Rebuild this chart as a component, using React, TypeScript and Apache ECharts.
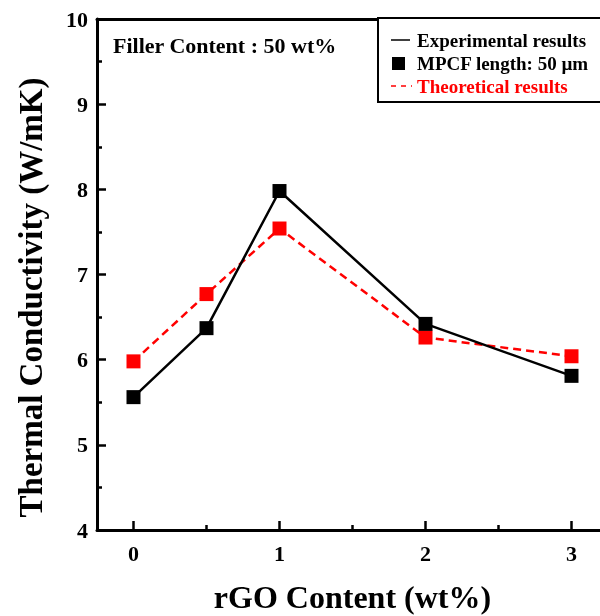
import React, { useEffect, useRef } from "react";
import * as echarts from "echarts";

const rgoContent = [0, 0.5, 1, 2, 3];
const experimental = [5.56, 6.37, 7.98, 6.42, 5.81];
const theoretical = [5.98, 6.77, 7.54, 6.26, 6.04];
const xMajorTicks = [0, 1, 2, 3];
const xMinorTicks = [0.5, 1.5, 2.5];
const legendLabels = ["Experimental results", "MPCF length: 50 µm", "Theoretical results"];
const annotation = "Filler Content : 50 wt%";
const xTitle = "rGO Content (wt%)";
const yTitle = "Thermal Conductivity (W/mK)";

const FONT = "'Liberation Serif', 'Times New Roman', serif";

export default function App() {
  const ref = useRef<HTMLDivElement>(null);
  useEffect(() => {
    if (!ref.current) return;
    const chart = echarts.init(ref.current, undefined, { renderer: "svg" });
    const xRange = { min: -0.25, max: 3.25 };
    const option: any = {
      animation: false,
      grid: { left: 97, top: 19, right: -8, bottom: 86, outerBoundsMode: "none" },
      xAxis: [
        {
          type: "value",
          position: "bottom",
          ...xRange,
          axisLine: { show: true, onZero: false, lineStyle: { color: "#000", width: 3 } },
          axisTick: { show: true, inside: true, length: 9, customValues: xMajorTicks, lineStyle: { color: "#000", width: 2.5 } },
          axisLabel: { show: true, customValues: xMajorTicks, color: "#000", fontSize: 22, fontWeight: "bold", fontFamily: FONT, margin: 12 },
          splitLine: { show: false },
          name: xTitle,
          nameLocation: "middle",
          nameGap: 51,
          nameTextStyle: { color: "#000", fontSize: 32, fontWeight: "bold", fontFamily: FONT },
        },
        {
          type: "value",
          position: "bottom",
          ...xRange,
          axisLine: { show: false, onZero: false },
          axisTick: { show: true, inside: true, length: 5, customValues: xMinorTicks, lineStyle: { color: "#000", width: 2.5 } },
          axisLabel: { show: false },
          splitLine: { show: false },
        },
        {
          type: "value",
          position: "top",
          ...xRange,
          axisLine: { show: true, onZero: false, lineStyle: { color: "#000", width: 3 } },
          axisTick: { show: false },
          axisLabel: { show: false },
          splitLine: { show: false },
        },
      ],
      yAxis: {
        type: "value",
        min: 4,
        max: 10,
        interval: 1,
        axisLine: { show: true, onZero: false, lineStyle: { color: "#000", width: 3 } },
        axisTick: { show: true, inside: true, length: 9, lineStyle: { color: "#000", width: 2.5 } },
        minorTick: { show: true, splitNumber: 2, length: 5, lineStyle: { color: "#000", width: 2.5 } },
        axisLabel: { color: "#000", fontSize: 22, fontWeight: "bold", fontFamily: FONT, margin: 9 },
        splitLine: { show: false },
        name: yTitle,
        nameLocation: "middle",
        nameGap: 50,
        nameTextStyle: { color: "#000", fontSize: 33, fontWeight: "bold", fontFamily: FONT, padding: [0, 46, 0, 0] },
      },
      series: [
        {
          name: legendLabels[2],
          type: "line",
          xAxisIndex: 0,
          data: rgoContent.map((x, i) => [x, theoretical[i]]),
          symbol: "rect",
          symbolSize: 14,
          itemStyle: { color: "#ff0000" },
          lineStyle: { color: "#ff0000", width: 2.5, type: [8, 5] },
        },
        {
          name: legendLabels[0],
          type: "line",
          xAxisIndex: 0,
          data: rgoContent.map((x, i) => [x, experimental[i]]),
          symbol: "rect",
          symbolSize: 14,
          itemStyle: { color: "#000" },
          lineStyle: { color: "#000", width: 2.5 },
        },
      ],
      graphic: [
        {
          type: "text",
          x: 113,
          y: 45,
          style: { text: annotation, fill: "#000", font: `bold 22px ${FONT}`, verticalAlign: "middle" },
        },
        {
          type: "rect",
          shape: { x: 378, y: 18, width: 260, height: 84 },
          style: { fill: "#fff", stroke: "#000", lineWidth: 2 },
          z: 10,
        },
        {
          type: "line",
          shape: { x1: 391, y1: 40, x2: 410, y2: 40 },
          style: { stroke: "#000", lineWidth: 1.5 },
          z: 11,
        },
        {
          type: "rect",
          shape: { x: 392, y: 57, width: 13, height: 13 },
          style: { fill: "#000" },
          z: 11,
        },
        {
          type: "line",
          shape: { x1: 391, y1: 86, x2: 412, y2: 86 },
          style: { stroke: "#ff0000", lineWidth: 1.5, lineDash: [5, 5] },
          z: 11,
        },
        {
          type: "text",
          x: 417,
          y: 40,
          style: { text: legendLabels[0], fill: "#000", font: `bold 19px ${FONT}`, verticalAlign: "middle" },
          z: 11,
        },
        {
          type: "text",
          x: 417,
          y: 63,
          style: { text: legendLabels[1], fill: "#000", font: `bold 19px ${FONT}`, verticalAlign: "middle" },
          z: 11,
        },
        {
          type: "text",
          x: 417,
          y: 86,
          style: { text: legendLabels[2], fill: "#ff0000", font: `bold 19px ${FONT}`, verticalAlign: "middle" },
          z: 11,
        },
      ],
    };
    chart.setOption(option);
    return () => chart.dispose();
  }, []);
  return <div ref={ref} style={{ position: "fixed", left: 0, top: 0, width: 600, height: 616 }} />;
}
